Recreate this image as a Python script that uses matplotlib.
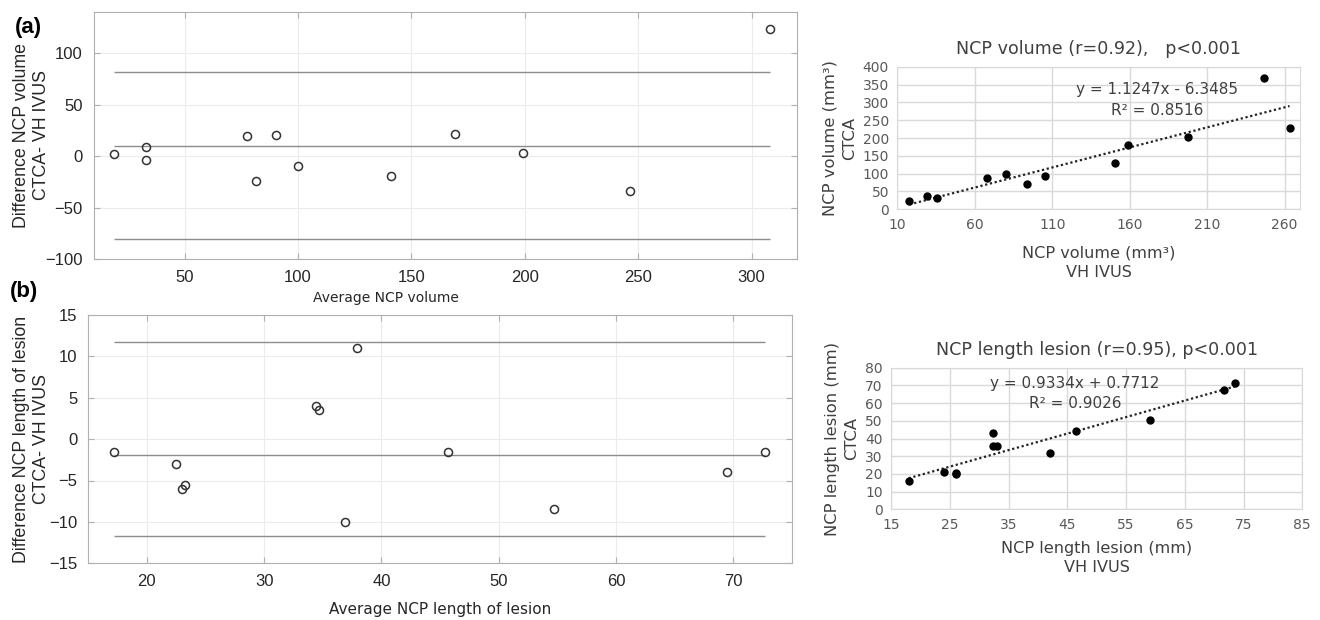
import matplotlib.pyplot as plt
import numpy as np

# Bland-Altman: NCP volume
ba_vol_avg = [19, 33, 33, 77.3, 81.3, 90.3, 100, 141, 169, 199, 246.3, 308]
ba_vol_diff = [2.3, 8.4, -3.9, 19.8, -24.3, 20.7, -10, -19.7, 21, 3.3, -34, 123.7]
ba_vol_lines = [81.3, 9.4, -80.2]

# Bland-Altman: NCP length of lesion
ba_len_avg = [17.2, 22.45, 22.96, 23.24, 34.4, 34.7, 37.9, 36.9, 45.7, 54.7, 69.45, 72.7]
ba_len_diff = [-1.5, -3, -6, -5.5, 4, 3.5, 11, -10, -1.5, -8.5, -4, -1.5]
ba_len_lines = [11.7, -1.9, -11.65]

# correlation: NCP volume (VH IVUS vs CTCA)
vol_ivus = [17.8, 29.2, 35.4, 68.1, 80.4, 93.6, 105.4, 150.8, 158.6, 197.4, 246.7, 263.2]
vol_ctca = [22.4, 37.3, 31.7, 88.7, 99.9, 70, 94.3, 129.9, 180.4, 202, 369, 229]
vol_fit = (1.1247, -6.3485)

# correlation: NCP length lesion
len_ivus = [18.0, 24.07, 26.05, 26.0, 32.4, 32.4, 33.0, 42.1, 46.5, 59.0, 71.6, 73.6]
len_ctca = [16, 20.9, 19.8, 20.5, 43.1, 35.9, 35.9, 31.6, 44.4, 50.3, 67.4, 71.5]
len_fit = (0.9334, 0.7712)

ARIAL = ['Liberation Sans', 'DejaVu Sans']
TAHOMA = ['DejaVu Sans']

fig = plt.figure(figsize=(13.2, 6.2), dpi=100)


def bland_altman(ax, avg, diff, lines, xlim, ylim, yticks, xticks, xlabel, ylabel,
                 xlab_pos, xlab_size, ylab_x):
    ax.plot(avg, diff, 'o', mfc='none', mec='#333333', mew=1.1, ms=5.8, zorder=3)
    for v in lines:
        ax.hlines(v, min(avg), max(avg), color='#8c8c8c', lw=1.0, zorder=2)
    ax.set_xlim(*xlim)
    ax.set_ylim(*ylim)
    ax.set_xticks(xticks)
    ax.set_yticks(yticks)
    ax.grid(True, color='#ececec', lw=0.8)
    ax.set_axisbelow(True)
    for s in ax.spines.values():
        s.set_color('#b0b0b0')
    ax.tick_params(direction='in', top=True, right=True, length=4, color='#b0b0b0',
                   labelcolor='#262626', labelsize=12, pad=8)
    for lab in ax.get_xticklabels() + ax.get_yticklabels():
        lab.set_family(ARIAL)
    ax.set_xlabel(xlabel, family=TAHOMA, fontsize=xlab_size, color='#262626')
    ax.xaxis.set_label_coords(*xlab_pos)
    ax.set_ylabel(ylabel, family=ARIAL, fontsize=12.8, color='#262626', linespacing=1.2)
    ax.yaxis.set_label_coords(ylab_x, 0.5)


def scatter_fit(ax, x, y, fit, xlim, ylim, xticks, yticks, title, xlabel, ylabel, eq, r2,
                eqpos, xpad):
    ax.plot(x, y, 'o', color='black', ms=5, zorder=3)
    xs = np.array([min(x), max(x)])
    ax.plot(xs, fit[0] * xs + fit[1], ls=(0, (1, 1.2)), color='#222222', lw=1.6, zorder=2)
    ax.set_xlim(*xlim)
    ax.set_ylim(*ylim)
    ax.set_xticks(xticks)
    ax.set_yticks(yticks)
    ax.grid(True, color='#d9d9d9', lw=1.0)
    ax.set_axisbelow(True)
    for s in ax.spines.values():
        s.set_color('#d9d9d9')
    ax.tick_params(length=0, labelcolor='#595959', labelsize=10, pad=6)
    for lab in ax.get_xticklabels() + ax.get_yticklabels():
        lab.set_family(TAHOMA)
    ax.set_title(title, family=TAHOMA, fontsize=12.6, color='#404040', pad=9)
    ax.set_xlabel(xlabel, family=TAHOMA, fontsize=11.6, color='#404040', linespacing=1.4,
                  labelpad=xpad)
    ax.set_ylabel(ylabel, family=TAHOMA, fontsize=11.8, color='#404040', linespacing=1.4,
                  labelpad=4)
    ax.text(eqpos[0], eqpos[1], eq, transform=ax.transAxes, ha='center', va='center',
            family=TAHOMA, fontsize=11, color='#404040')
    ax.text(eqpos[0], eqpos[2], r2, transform=ax.transAxes, ha='center', va='center',
            family=TAHOMA, fontsize=11, color='#404040')


ax_a = fig.add_axes([0.0712, 0.5823, 0.5326, 0.3984])
bland_altman(ax_a, ba_vol_avg, ba_vol_diff, ba_vol_lines, (10, 320), (-100, 140),
             [-100, -50, 0, 50, 100], [50, 100, 150, 200, 250, 300],
             'Average NCP volume', 'Difference NCP volume\nCTCA- VH IVUS',
             (0.415, -0.13), 10, -0.063)

ax_b = fig.add_axes([0.0669, 0.0915, 0.5329, 0.4005])
bland_altman(ax_b, ba_len_avg, ba_len_diff, ba_len_lines, (15, 75), (-15, 15),
             [-15, -10, -5, 0, 5, 10, 15], [20, 30, 40, 50, 60, 70],
             'Average NCP length of lesion', 'Difference NCP length of lesion\nCTCA- VH IVUS',
             (0.5, -0.155), 11, -0.055)

ax_c = fig.add_axes([0.6798, 0.6624, 0.3051, 0.2300])
scatter_fit(ax_c, vol_ivus, vol_ctca, vol_fit, (10, 270), (0, 400),
            [10, 60, 110, 160, 210, 260], list(range(0, 401, 50)),
            'NCP volume (r=0.92),   p<0.001', 'NCP volume (mm³)\nVH IVUS',
            'NCP volume (mm³)\nCTCA', 'y = 1.1247x - 6.3485', 'R² = 0.8516',
            (0.644, 0.837, 0.696), 10)

ax_d = fig.add_axes([0.675, 0.1785, 0.3116, 0.2284])
scatter_fit(ax_d, len_ivus, len_ctca, len_fit, (15, 85), (0, 80),
            list(range(15, 86, 10)), list(range(0, 81, 10)),
            'NCP length lesion (r=0.95), p<0.001', 'NCP length lesion (mm)\nVH IVUS',
            'NCP length lesion (mm)\nCTCA', 'y = 0.9334x + 0.7712', 'R² = 0.9026',
            (0.447, 0.89, 0.745), 6.5)

fig.text(28 / 1320, 1 - 27 / 620, '(a)', family=ARIAL, fontsize=16, fontweight='bold',
         ha='center', va='center')
fig.text(24 / 1320, 1 - 291 / 620, '(b)', family=ARIAL, fontsize=16, fontweight='bold',
         ha='center', va='center')

fig.savefig('out.png', dpi=100, facecolor='white')
